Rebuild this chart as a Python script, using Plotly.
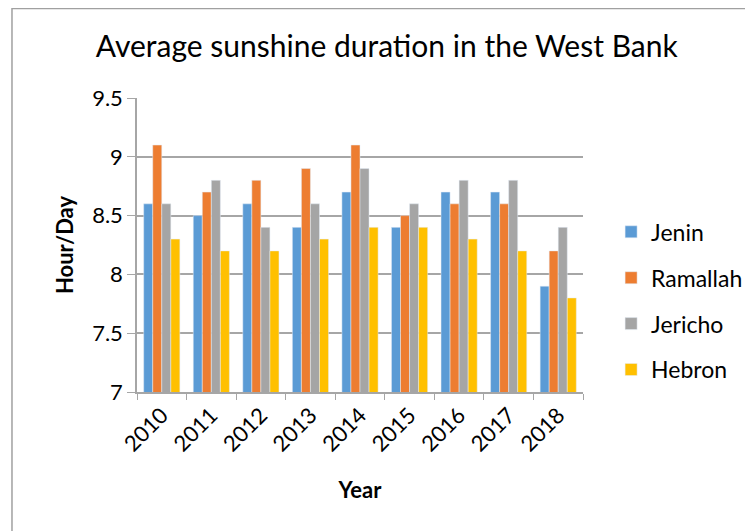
import plotly.graph_objects as go

years = ["2010", "2011", "2012", "2013", "2014", "2015", "2016", "2017", "2018"]
jenin = [8.6, 8.5, 8.6, 8.4, 8.7, 8.4, 8.7, 8.7, 7.9]
ramallah = [9.1, 8.7, 8.8, 8.9, 9.1, 8.5, 8.6, 8.6, 8.2]
jericho = [8.6, 8.8, 8.4, 8.6, 8.9, 8.6, 8.8, 8.8, 8.4]
hebron = [8.3, 8.2, 8.2, 8.3, 8.4, 8.4, 8.3, 8.2, 7.8]

series = [
    ("Jenin", jenin, "#5B9BD5"),
    ("Ramallah", ramallah, "#ED7D31"),
    ("Jericho", jericho, "#A5A5A5"),
    ("Hebron", hebron, "#FFC000"),
]

FONT = "Lato, Calibri, sans-serif"
GRID = "#a6a6a6"

fig = go.Figure()

for name, vals, color in series:
    fig.add_trace(
        go.Bar(
            x=years,
            y=vals,
            name=name,
            marker_color=color,
            legendgroup=name,
        )
    )

# outer chart frame (runs off the right/bottom edge like the source)
fig.add_shape(
    type="rect",
    xref="paper", yref="paper",
    x0=-0.2803, x1=1.5, y0=-0.6, y1=1.3044,
    line=dict(color="#a0a0a0", width=1.5),
    layer="below",
)

fig.update_layout(
    width=753,
    height=531,
    margin=dict(l=129, r=178, t=90, b=147, autoexpand=False),
    paper_bgcolor="white",
    plot_bgcolor="white",
    font=dict(family=FONT, color="black"),
    title=dict(
        text="Average sunshine duration in the West Bank",
        x=0.503, xanchor="center",
        y=0.9266, yanchor="middle",
        font=dict(size=30, family=FONT),
    ),
    barmode="group",
    bargap=0.27,
    bargroupgap=0,
    legend=dict(
        x=1.063, xanchor="left",
        y=0.31, yanchor="middle",
        font=dict(size=23, family=FONT),
        tracegroupgap=13,
        itemwidth=30,
    ),
    xaxis=dict(
        automargin=False,
        title=dict(text="<b>Year</b>", font=dict(size=22), standoff=27),
        tickangle=-45,
        tickfont=dict(size=22),
        tickson="boundaries",
        ticks="outside",
        ticklen=6,
        tickcolor=GRID,
        showline=True,
        linecolor=GRID,
        linewidth=1.5,
        showgrid=False,
    ),
    yaxis=dict(
        automargin=False,
        title=dict(text="<b>Hour/Day</b>", font=dict(size=22), standoff=12),
        range=[7, 9.5],
        tickvals=[7, 7.5, 8, 8.5, 9, 9.5],
        ticktext=["7", "7.5", "8", "8.5", "9", "9.5"],
        tickfont=dict(size=22),
        ticks="outside",
        ticklen=8,
        tickcolor=GRID,
        showline=True,
        linecolor=GRID,
        linewidth=1.5,
        showgrid=True,
        gridcolor=GRID,
        gridwidth=1.5,
        zeroline=False,
    ),
)

fig.write_html("out.html")
